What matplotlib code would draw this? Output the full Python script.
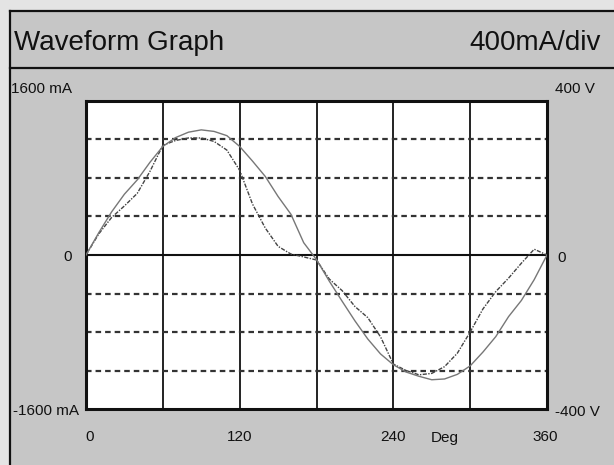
import matplotlib.pyplot as plt
from matplotlib.patches import Rectangle
from matplotlib.lines import Line2D

W, H = 614, 465

# one sample every 10 degrees over a full cycle
deg = list(range(0, 361, 10))

current_ma = [0, 220, 390, 510, 640, 870, 1140, 1190, 1216, 1216,
              1180, 1090, 880, 530, 280, 90, 10, -20, -52, -250,
              -370, -535, -650, -850, -1133, -1200, -1245, -1230, -1160, -1020,
              -800, -560, -380, -240, -85, 60, 0]

voltage_v = [0, 58, 112, 158, 195, 241, 282, 305, 319, 325,
             321, 310, 282, 244, 204, 152, 106, 32, -12, -68,
             -120, -171, -218, -257, -285, -304, -315, -324, -322, -310,
             -288, -252, -212, -160, -118, -64, 0]

x_ticks = [0, 120, 240, 360]
grid_deg = [60, 120, 180, 240, 300]
dash_ma = [-1200, -800, -400, 400, 800, 1200]

plt.rcParams["font.family"] = ["Liberation Sans", "DejaVu Sans"]


def px(x, y):
    return x / W, 1 - y / H


fig = plt.figure(figsize=(W / 100, H / 100), dpi=100)
fig.patch.set_facecolor("#e4e4e4")

# panel background and frame lines
fig.patches.append(Rectangle(px(10, H), 1, (H - 11) / H, transform=fig.transFigure,
                             facecolor="#c6c6c6", edgecolor="none", zorder=-5))
for (x0, y0), (x1, y1) in [((10, 11), (W, 11)), ((10, 68), (W, 68)), ((10, 11), (10, H))]:
    a, b = px(x0, y0)
    c, d = px(x1, y1)
    fig.add_artist(Line2D([a, c], [b, d], color="#111111", lw=1.6, zorder=-4))

fig.text(*px(14, 43), "Waveform Graph", fontsize=20, va="center", ha="left", color="#111111")
fig.text(*px(601, 43), "400mA/div", fontsize=20, va="center", ha="right", color="#111111")

left, right, top, bottom = 86, 547, 101, 409
ax = fig.add_axes([left / W, 1 - bottom / H, (right - left) / W, (bottom - top) / H])
ax.set_facecolor("white")
ax.set_xlim(0, 360)
ax.set_ylim(-1600, 1600)
ax.set_xticks([])
ax.set_yticks([])
for s in ax.spines.values():
    s.set_linewidth(2.2)
    s.set_color("#111111")

for g in grid_deg:
    ax.axvline(g, color="#111111", lw=1.3, zorder=1)
for d in dash_ma:
    ax.axhline(d, color="#333333", lw=1.6, ls=(0, (2.5, 1.8)), zorder=1)
ax.axhline(0, color="#111111", lw=1.5, zorder=1)

ax.plot(deg, current_ma, color="#444444", lw=1.0, ls=(0, (3, 1, 1, 1)), zorder=3)

ax2 = ax.twinx()
ax2.set_ylim(-400, 400)
ax2.set_yticks([])
for s in ax2.spines.values():
    s.set_visible(False)
ax2.plot(deg, voltage_v, color="#777777", lw=1.0, zorder=3)

# scale labels around the grid
lab = dict(fontsize=11, color="#111111", va="center")
fig.text(*px(11, 89), "1600 mA", ha="left", **lab)
fig.text(*px(79, 411), "-1600 mA", ha="right", **lab)
fig.text(*px(72, 257), "0", ha="right", **lab)
fig.text(*px(555, 89), "400 V", ha="left", **lab)
fig.text(*px(555, 412), "-400 V", ha="left", **lab)
fig.text(*px(557, 258), "0", ha="left", **lab)

for t in x_ticks:
    xf = (left + (right - left) * t / 360) / W
    xf = min(xf, 545 / W)
    fig.text(max(xf, 90 / W), 1 - 437 / H, str(t), ha="center", **lab)
fig.text(*px(445, 438), "Deg", ha="center", **lab)

fig.savefig("out.png", dpi=100, facecolor=fig.get_facecolor())
